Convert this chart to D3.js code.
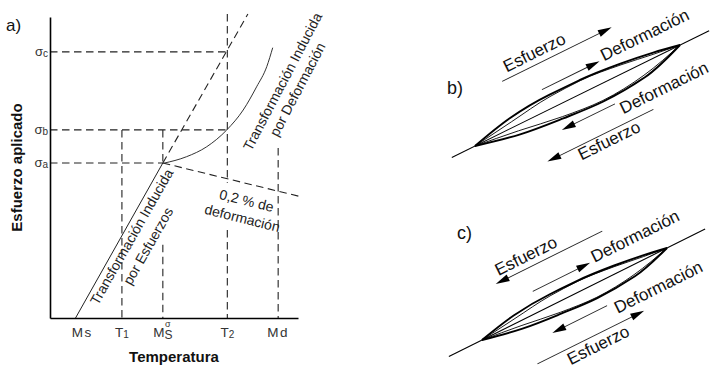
<!DOCTYPE html>
<html>
<head>
<meta charset="utf-8">
<script src="https://cdn.jsdelivr.net/npm/d3@7"></script>
<style>
  body { margin: 0; background: #fff; }
  svg { display: block; font-family: "Liberation Sans", Arial, sans-serif; }
</style>
</head>
<body>
<div id="chart"></div>
<script>
// ---------- panel a) : stress vs temperature (arbitrary units 0..100)
const tempLabels = ['Ms', 'T1', 'MsS', 'T2', 'Md'];
const tempValues = [13, 29, 45.5, 71.5, 92];

const stressLabels = ['a', 'b', 'c'];
const stressValues = [51.5, 62.5, 88.4];

// stress-induced transformation (solid) and its dashed extension
const stressLine = [[10.3, 0], [45.5, 51.5]];
const stressExt = [[45.5, 51.5], [79.8, 101]];
// strain-induced transformation curve
const strainCurve = [[45.7, 51.4], [55.1, 53.6], [63.2, 56.9], [71.3, 62.5],
  [77.9, 69.1], [83.3, 76.8], [87.4, 83.5], [89.8, 89.8]];
// 0.2 % offset yield line
const offsetLine = [[45.5, 51.5], [101.6, 40.2]];

// guide lines: vertical [t, yFrom, yTo], horizontal [stress, tFrom, tTo]
const guideV = [[29, 62.5, 0], [45.5, 62.5, 51.5], [45.5, 24.3, 0],
  [71.5, 101, 44.9], [71.5, 29.2, 0], [92, 56.5, 0]];
const guideH = [[88.4, 0, 71.5], [62.5, 0, 71.5], [51.5, 0, 45.5]];

// ---------- panels b) and c) : sketch of the plate (u in % of lens length, v in px)
const lensUpper = [[0, 0], [19, -8.5], [39, -11.7], [54, -11.5], [73, -8.6], [88, -4.5], [100, 0]];
const lensLower = [[0, 0], [20, 8.5], [40, 12.7], [59, 15], [80, 12], [100, 0]];
const lensInnerUpper = [[0, 0], [19, -5], [39, -10], [54, -10.8], [73, -7.4], [88, -3], [100, 0]];
const lensInnerLower = [[0, 0], [20, 5], [40, 11], [59, 14], [80, 10], [100, 0]];

const arrowLabels = ['Esfuerzo', 'Deformación', 'Deformación', 'Esfuerzo'];
const bAxis = [-11.3, 114.2];
const bFrom = [23.2, 37.2, 63.1, 77.1];
const bTo = [76.6, 65.3, 37.2, 25.4];
const bOffset = [-46, -21, 24, 46];
const bTextAt = [26.7, 67, 64.4, 39];
const bTextBase = [-52, -19, 37, 60];

const cAxis = [-17.9, 120.6];
const cFrom = [75.6, 32.5, 61.6, 18.9];
const cTo = [18, 63.5, 32, 76.6];
const cOffset = [-44, -21, 25, 46];
const cTextAt = [20.9, 65.4, 64.5, 33];
const cTextBase = [-50, -19, 37, 62];

const ink = '#222';
const svg = d3.select('#chart').append('svg')
  .attr('width', 711)
  .attr('height', 369);

const x = d3.scaleLinear().domain([0, 100]).range([50, 298]);
const y = d3.scaleLinear().domain([0, 100]).range([318, 17]);

const pa = svg.append('g');

// Guides
const dash = sel => sel.attr('stroke', ink).attr('stroke-width', 1.1)
  .attr('stroke-dasharray', '7.5,4.5').attr('fill', 'none');

pa.selectAll('.gv').data(guideV).enter().append('line')
  .attr('x1', d => x(d[0])).attr('x2', d => x(d[0]))
  .attr('y1', d => y(d[1])).attr('y2', d => y(d[2]))
  .call(dash);

pa.selectAll('.gh').data(guideH).enter().append('line')
  .attr('x1', d => x(d[1])).attr('x2', d => x(d[2]))
  .attr('y1', d => y(d[0])).attr('y2', d => y(d[0]))
  .call(dash);

const line = d3.line().x(d => x(d[0])).y(d => y(d[1]));

pa.append('path').datum(stressExt).attr('d', line).call(dash);
pa.append('path').datum(offsetLine).attr('d', line).call(dash);

pa.append('path').datum(stressLine).attr('d', line)
  .attr('fill', 'none').attr('stroke', ink).attr('stroke-width', 1);

pa.append('path').datum(strainCurve)
  .attr('d', line.curve(d3.curveMonotoneX))
  .attr('fill', 'none').attr('stroke', '#333').attr('stroke-width', 1);
line.curve(d3.curveLinear);

// Axes
pa.append('g')
  .attr('transform', `translate(0,${y(0)})`)
  .call(d3.axisBottom(x).tickValues([]).tickSizeOuter(0))
  .call(g => g.select('.domain').attr('stroke', '#000').attr('stroke-width', 1.6));

pa.append('g')
  .attr('transform', `translate(${x(0)},0)`)
  .call(d3.axisLeft(y).tickValues([]).tickSizeOuter(0))
  .call(g => g.select('.domain').attr('stroke', '#000').attr('stroke-width', 1.6));

// Stress tick labels (sigma + subscript)
stressValues.forEach((v, i) => {
  const t = pa.append('text')
    .attr('x', x(0) - 2).attr('y', y(v) + 4)
    .attr('text-anchor', 'end')
    .attr('fill', '#333').attr('font-size', 13);
  t.append('tspan').text('σ');
  t.append('tspan').attr('font-size', 10).attr('dy', 1).text(stressLabels[i]);
});

// Temperature tick labels
tempValues.forEach((v, i) => {
  const lab = tempLabels[i];
  const t = pa.append('text')
    .attr('x', x(v)).attr('y', 337)
    .attr('text-anchor', 'middle')
    .attr('fill', '#333').attr('font-size', 13.5);
  if (lab === 'T1' || lab === 'T2') {
    t.append('tspan').text('T');
    t.append('tspan').attr('font-size', 10).attr('dy', 1).text(lab[1]);
  } else if (lab === 'MsS') {
    t.append('tspan').text('M');
    t.append('tspan').attr('font-size', 12).attr('dy', 2).text('S');
    pa.append('text')
      .attr('x', x(v) + 5).attr('y', 327)
      .attr('text-anchor', 'middle')
      .attr('fill', '#333').attr('font-size', 9)
      .text('σ');
  } else {
    t.attr('letter-spacing', 1.5).text(lab);
  }
});

// Axis titles
pa.append('text')
  .attr('x', 174).attr('y', 362)
  .attr('text-anchor', 'middle')
  .attr('font-weight', 'bold').attr('font-size', 15)
  .attr('fill', '#111')
  .text('Temperatura');

pa.append('text')
  .attr('transform', `translate(22,${y(50)}) rotate(-90)`)
  .attr('text-anchor', 'middle')
  .attr('font-weight', 'bold').attr('font-size', 15)
  .attr('fill', '#111')
  .text('Esfuerzo aplicado');

pa.append('text')
  .attr('x', 6).attr('y', 31)
  .attr('font-size', 17).attr('fill', '#111')
  .text('a)');

// Rotated annotations
function note(pos, angle, lines, gap, size) {
  const g = pa.append('g')
    .attr('transform', `translate(${x(pos[0])},${y(pos[1])}) rotate(${angle})`);
  lines.forEach((s, i) => {
    g.append('text')
      .attr('x', 0).attr('y', i * gap)
      .attr('text-anchor', 'middle')
      .attr('font-size', size).attr('fill', ink)
      .text(s);
  });
}

note([34.6, 26.2], -60.4, ['Transformación Inducida', 'por Esfuerzos'], 19, 14);
note([95.5, 77.8], -62.3, ['Transformación Inducida', 'por Deformación'], 17, 14);
note([78.8, 37.4], 14, ['0,2 % de', 'deformación'], 18, 14);

// ---------- sketches b) and c)
function sketch(tipL, tipR, thick, axis, from, to, offset, textAt, textBase) {
  const L = Math.hypot(tipR[0] - tipL[0], tipR[1] - tipL[1]);
  const ang = Math.atan2(tipR[1] - tipL[1], tipR[0] - tipL[0]) * 180 / Math.PI;
  const u = d3.scaleLinear().domain([0, 100]).range([0, L]);
  const v = d3.scaleLinear().domain([-10, 10]).range([-10 * thick, 10 * thick]);
  const g = svg.append('g').attr('transform', `translate(${tipL[0]},${tipL[1]}) rotate(${ang})`);

  const lens = d3.line().x(d => u(d[0])).y(d => v(d[1])).curve(d3.curveMonotoneX);

  g.append('line')
    .attr('x1', u(axis[0])).attr('x2', u(axis[1]))
    .attr('y1', 0).attr('y2', 0)
    .attr('stroke', '#000').attr('stroke-width', 1.1);

  [lensInnerUpper, lensInnerLower].forEach(p => {
    g.append('path').datum(p).attr('d', lens)
      .attr('fill', 'none').attr('stroke', '#000').attr('stroke-width', 0.8);
  });
  [lensUpper, lensLower].forEach(p => {
    g.append('path').datum(p).attr('d', lens)
      .attr('fill', 'none').attr('stroke', '#000').attr('stroke-width', 1.9);
  });

  from.forEach((f, i) => {
    const u0 = u(f), u1 = u(to[i]), w = offset[i];
    const s = Math.sign(u1 - u0);
    g.append('line')
      .attr('x1', u0).attr('x2', u1 - s * 8)
      .attr('y1', w).attr('y2', w)
      .attr('stroke', '#222').attr('stroke-width', 0.9);
    g.append('path')
      .attr('d', `M${u1},${w}L${u1 - s * 14},${w - 3.6}L${u1 - s * 14},${w + 3.6}Z`)
      .attr('fill', '#000');
    g.append('text')
      .attr('x', u(textAt[i])).attr('y', textBase[i])
      .attr('font-size', 17).attr('fill', '#111')
      .text(arrowLabels[i]);
  });
}

sketch([475, 146], [680, 45], 1.12, bAxis, bFrom, bTo, bOffset, bTextAt, bTextBase);
sketch([482, 340], [667, 248], 0.92, cAxis, cFrom, cTo, cOffset, cTextAt, cTextBase);

svg.append('text').attr('x', 447).attr('y', 94)
  .attr('font-size', 18).attr('fill', '#111').text('b)');
svg.append('text').attr('x', 457).attr('y', 239)
  .attr('font-size', 18).attr('fill', '#111').text('c)');
</script>
</body>
</html>
